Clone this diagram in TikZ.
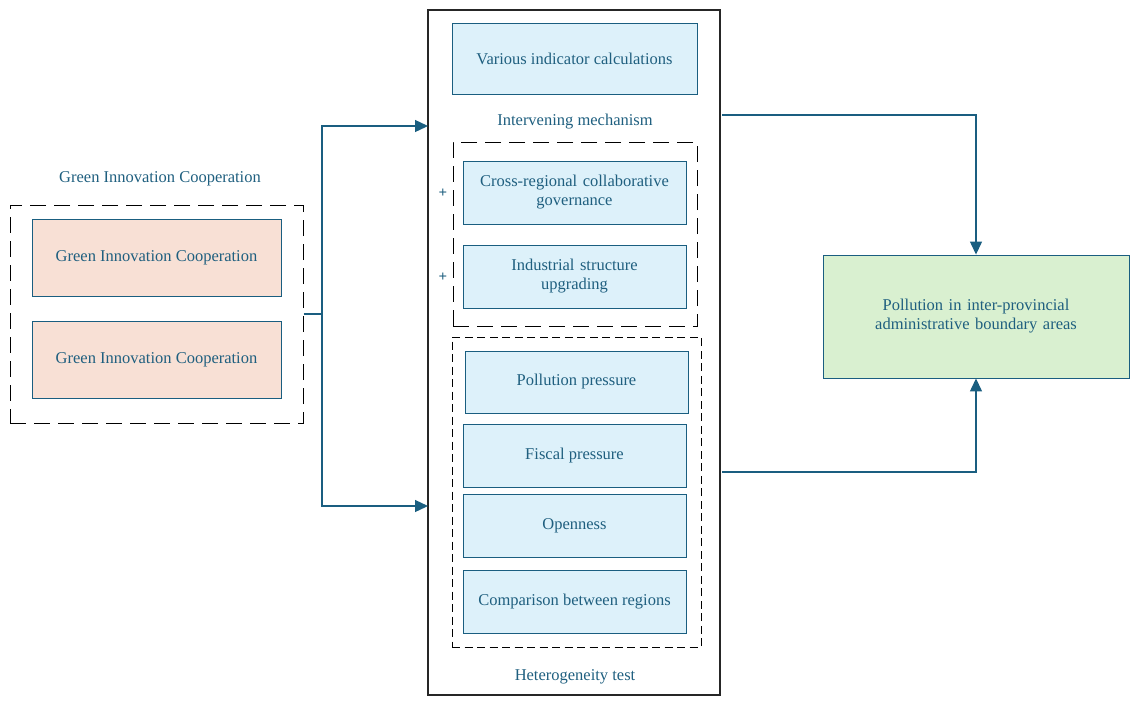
\documentclass[tikz,border=0pt]{standalone}
\usepackage{fontspec}
\setmainfont{Liberation Serif}
\usetikzlibrary{arrows.meta,calc}
\definecolor{txt}{HTML}{1F5F7F}
\definecolor{edge}{HTML}{1A5E80}
\definecolor{orangefill}{HTML}{F8E0D5}
\definecolor{bluefill}{HTML}{DDF1FA}
\definecolor{greenfill}{HTML}{D9F0D0}
\tikzset{
  base/.style={font=\fontsize{16.5}{19}\selectfont, text=txt, align=center},
  rbox/.style={base, draw=edge, line width=0.9pt, inner sep=0pt},
  dbox/.style={draw=black, line width=1pt, dash pattern=on 16pt off 8pt, inner sep=0pt},
  sbox/.style={draw=black, line width=1pt, dash pattern=on 8pt off 4.5pt, inner sep=0pt},
  conn/.style={draw=edge, line width=1.3pt, -{Triangle[length=13pt,width=12pt]}},
  lbl/.style={base},
  plus/.style={text=txt, font=\fontsize{15}{17}\selectfont\bfseries, inner sep=0pt},
}
\begin{document}
\begin{tikzpicture}[x=1pt,y=-1pt]
\useasboundingbox (0,0) rectangle (1138,705);
% big frame
\node[draw=black!85, line width=1.2pt, minimum width=292pt, minimum height=685pt, inner sep=0pt] (frame) at (574,352.5) {};
% left group
\node[dbox, minimum width=293pt, minimum height=218pt] (lgroup) at (156.5,314) {};
\node[lbl] (ltitle) at (160,179) {Green Innovation Cooperation};
\node[rbox, fill=orangefill, minimum width=249pt, minimum height=77pt] (g1) at (156.5,257.5) {Green Innovation Cooperation};
\node[rbox, fill=orangefill, minimum width=249pt, minimum height=77pt] (g2) at (156.5,359.5) {Green Innovation Cooperation};
% middle top
\node[rbox, fill=bluefill, minimum width=245pt, minimum height=71pt] (calc) at (574.5,58.5) {Various indicator calculations};
\node[lbl] (imech) at (575,122) {Intervening mechanism};
\node[dbox, minimum width=244pt, minimum height=184pt] (mgroup) at (575,234) {};
\node[rbox, fill=bluefill, minimum width=223pt, minimum height=63pt, text width=215pt] (cross) at (574.5,192.5) {Cross-regional collaborative\\governance};
\node[rbox, fill=bluefill, minimum width=223pt, minimum height=63pt, text width=215pt] (indus) at (574.5,276.5) {Industrial structure\\upgrading};
\node[plus] (p1) at (443,193) {+};
\node[plus] (p2) at (443,277) {+};
% heterogeneity group
\node[sbox, minimum width=249pt, minimum height=310pt] (hgroup) at (576.5,492) {};
\node[rbox, fill=bluefill, minimum width=223pt, minimum height=62pt] (poll) at (576.5,382) {Pollution pressure};
\node[rbox, fill=bluefill, minimum width=223pt, minimum height=63pt] (fisc) at (574.5,455.5) {Fiscal pressure};
\node[rbox, fill=bluefill, minimum width=223pt, minimum height=63pt] (open) at (574.5,525.5) {Openness};
\node[rbox, fill=bluefill, minimum width=223pt, minimum height=63pt] (comp) at (574.5,601.5) {Comparison between regions};
\node[lbl] (htest) at (575,677) {Heterogeneity test};
% right
\node[rbox, fill=greenfill, minimum width=306pt, minimum height=123pt, text width=290pt] (res) at (976,316.5) {Pollution in inter-provincial\\administrative boundary areas};
% connectors
\coordinate (j) at (322,314);
\coordinate (ta) at (428,126);
\coordinate (tb) at (428,506);
\draw[conn] (lgroup.east) -- (j) |- (ta);
\draw[conn] (j) |- (tb);
\coordinate (r1) at (722,115);
\coordinate (r2) at (722,472);
\draw[conn] (r1) -| (res.north);
\draw[conn] (r2) -| (res.south);
\end{tikzpicture}
\end{document}
